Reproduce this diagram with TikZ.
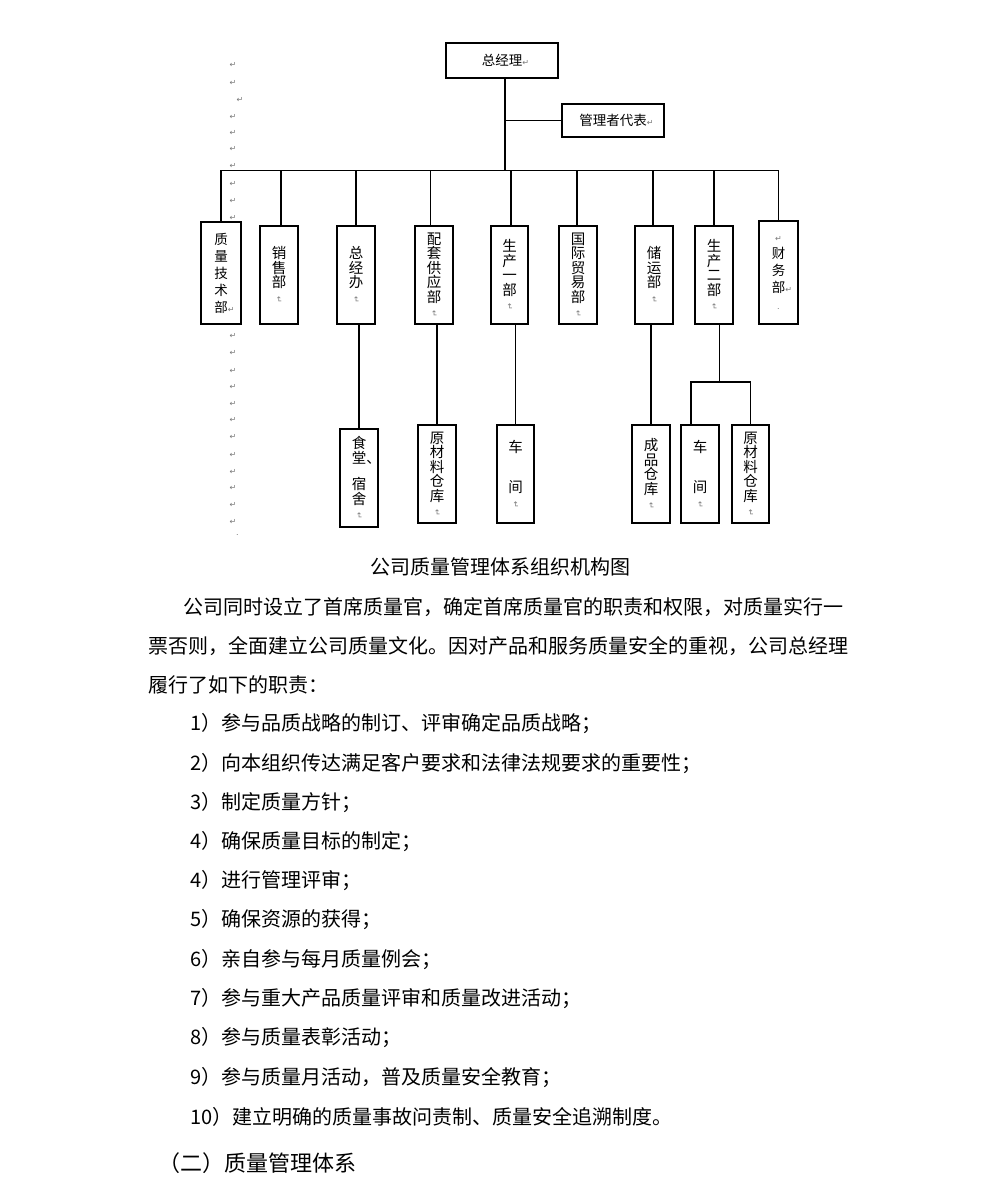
\documentclass[tikz,border=0pt]{standalone}
\usepackage{fontspec}
\usepackage{graphicx}
\newfontfamily\cjk{Noto Sans CJK SC}
\newfontfamily\symf{DejaVu Sans}
\usetikzlibrary{calc}
\definecolor{markgray}{RGB}{120,120,120}
\newcommand\retm{{\symf\fontsize{8}{8}\selectfont\textcolor{markgray}{↵}}}
\newcommand\vretm{\rotatebox[origin=c]{-90}{\retm}}
\newcommand\graydot{{\symf\fontsize{8}{8}\selectfont\textcolor{markgray}{.}}}
\begin{document}
\begin{tikzpicture}[x=1pt,y=-1pt,
  box/.style={draw, line width=1.4pt, inner sep=0pt, minimum width=38pt, minimum height=98pt,
    align=center, fill=white, font=\cjk\fontsize{14.5}{14.5}\selectfont},
  loose/.style={font=\cjk\fontsize{13.5}{17}\selectfont},
  wide/.style={draw, line width=1.4pt, inner sep=0pt, fill=white, font=\cjk\fontsize{13.5}{13.5}\selectfont},
  link/.style={line width=1.4pt},
  body/.style={anchor=west, inner sep=0pt, font=\cjk\fontsize{20}{20}\selectfont},
  pmark/.style={inner sep=0pt, font=\symf\fontsize{8}{8}\selectfont, text=markgray}
]
\useasboundingbox[fill=white] (0,0) rectangle (1000,1198);

% paragraph marks in the left column
\foreach \x/\y [count=\i] in {233/65,233/82.7,240/100,233/116.7,233/133,233/149,233/166,233/184,
  233/200.7,233/217.7,233/336,233/353,233/370.5,233/387,233/403.5,233/420,233/437,233/454.5,
  233/471.5,233/488,233/504.5,233/521.5}
  \node[pmark] (m\i) at (\x,\y) {↵};
\node[pmark] (mdot) at (237.5,535) {.};

% top
\node[wide, minimum width=112pt, minimum height=35pt] (gm) at (502,60.5) {总经理\rlap{\retm}};
\node[wide, minimum width=102pt, minimum height=33pt] (mr) at (613,120.5) {管理者代表\rlap{\retm}};

% departments
\node[box, loose, minimum width=40pt, minimum height=102pt] (qa) at (221,273) {质\\量\\技\\术\\部\rlap{\retm}};
\node[box] (sales) at (279,275) {销\\售\\部\\\vretm};
\node[box] (zjb) at (356,275) {总\\经\\办\\\vretm};
\node[box] (supply) at (434,275) {配\\套\\供\\应\\部\\\vretm};
\node[box, minimum width=37pt] (p1) at (509.5,275) {生\\产\\一\\部\\\vretm};
\node[box] (intl) at (578,275) {国\\际\\贸\\易\\部\\\vretm};
\node[box] (store) at (654,275) {储\\运\\部\\\vretm};
\node[box] (p2) at (714,275) {生\\产\\二\\部\\\vretm};
\node[box, loose, minimum width=39pt, minimum height=103pt] (fin) at (778.5,272.5) {\retm\\财\\务\\部\rlap{\retm}\\\graydot};

% lower boxes
\node[box] (canteen) at (359,478) {食\\堂\rlap{、}\\[12pt]宿\\舍\\\vretm};
\node[box] (raw1) at (437,474) {原\\材\\料\\仓\\库\\\vretm};
\node[box, minimum width=37pt] (ws1) at (515.5,474) {车\\[26pt]间\\\vretm};
\node[box] (fg) at (651,474) {成\\品\\仓\\库\\\vretm};
\node[box] (ws2) at (700,474) {车\\[26pt]间\\\vretm};
\node[box, minimum width=37pt] (raw2) at (750.5,474) {原\\材\\料\\仓\\库\\\vretm};

% connectors
\coordinate (bus) at (0,170.7);
\coordinate (trunk) at ([xshift=3pt]gm.south);
\draw[link] (trunk) -- (trunk |- bus);
\draw[link] (mr.west) -- (mr.west -| trunk);
\draw[link] (qa.north) -- (qa.north |- bus) -- (fin.north |- bus) -- (fin.north);
\foreach \n/\d in {sales/2, zjb/0, supply/-3.5, p1/1.5, intl/-1, store/-1, p2/0}{
  \coordinate (t\n) at ([xshift=\d pt]\n.north);
  \draw[link] (t\n) -- (t\n |- bus);
}
\draw[link] (canteen.north) -- (canteen.north |- zjb.south);
\draw[link] (raw1.north) -- (raw1.north |- supply.south);
\draw[link] (ws1.north) -- (ws1.north |- p1.south);
\draw[link] (fg.north) -- (fg.north |- store.south);
\coordinate (br) at (719.3,382);
\draw[link] (br |- p2.south) -- (br);
\coordinate (ws2top) at ([xshift=-9pt]ws2.north);
\draw[link] (ws2top) |- (br) -| (raw2.north);

% text below
\node[inner sep=0pt, font=\cjk\fontsize{20}{20}\selectfont] (cap) at (500,567) {公司质量管理体系组织机构图};
\node[body] (l1) at (183,607) {公司同时设立了首席质量官，确定首席质量官的职责和权限，对质量实行一};
\node[body] (l2) at (148,646) {票否则，全面建立公司质量文化。因对产品和服务质量安全的重视，公司总经理};
\node[body] (l3) at (148,685) {履行了如下的职责：};
\node[body] (i1) at (190,724) {1）参与品质战略的制订、评审确定品质战略；};
\node[body] (i2) at (190,764) {2）向本组织传达满足客户要求和法律法规要求的重要性；};
\node[body] (i3) at (190,803) {3）制定质量方针；};
\node[body] (i4) at (190,842) {4）确保质量目标的制定；};
\node[body] (i5) at (190,881) {4）进行管理评审；};
\node[body] (i6) at (190,920) {5）确保资源的获得；};
\node[body] (i7) at (190,960) {6）亲自参与每月质量例会；};
\node[body] (i8) at (190,999) {7）参与重大产品质量评审和质量改进活动；};
\node[body] (i9) at (190,1038) {8）参与质量表彰活动；};
\node[body] (i10) at (190,1078) {9）参与质量月活动，普及质量安全教育；};
\node[body] (i11) at (190,1117) {10）建立明确的质量事故问责制、质量安全追溯制度。};
\node[body, font=\cjk\fontsize{22}{22}\selectfont] (h2) at (158,1163) {（二）质量管理体系};
\end{tikzpicture}
\end{document}
